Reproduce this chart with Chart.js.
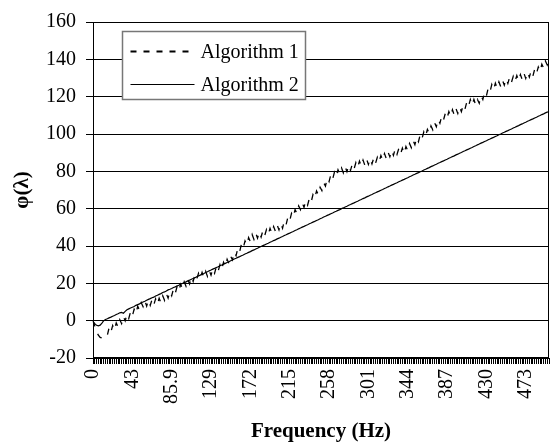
<!DOCTYPE html>
<html>
<head>
<meta charset="utf-8">
<script src="https://cdn.jsdelivr.net/npm/chart.js@4.4.0/dist/chart.umd.min.js"></script>
<style>
  html, body { margin: 0; padding: 0; background: #fff; }
  #wrap { width: 551px; height: 447px; }
</style>
</head>
<body>
<div id="wrap"><canvas id="phaseChart" width="551" height="447"></canvas></div>
<script>
// --- Data (256 frequency bins, a label every 22 bins) ---
const binCount = 256;
const labelEvery = 22;
const tickLabels = ['0', '43', '85.9', '129', '172', '215', '258', '301', '344', '387', '430', '473'];
const seriesNames = ['Algorithm 1', 'Algorithm 2'];

// jagged estimate (noisy bin-to-bin)
const algorithm1 = [
    0, -3, -6, -7.8, -9, -9.3, -8.5, -7.5, -7.9, -3.8,
    -6.2, -2.6, -5.0, -1.2, -3.3, 0.5, -1.6, 2.2, -0.1, 3.5,
    1.2, 4.8, 2.5, 6.1, 3.8, 7.7, 5.6, 9.6, 7.5, 10.7,
    7.8, 11.0, 8.2, 11.3, 8.5, 11.7, 8.8, 12.0, 9.6, 13.3,
    10.9, 14.5, 12.1, 15.7, 13.4, 17.0, 14.6, 18.2, 15.9, 19.5,
    17.2, 20.8, 18.5, 22.1, 19.7, 23.4, 21.0, 24.6, 22.2, 25.4,
    22.7, 25.9, 23.2, 26.4, 23.7, 26.9, 24.4, 27.9, 25.4, 29.0,
    26.5, 30.0, 27.5, 31.3, 29.1, 32.9, 30.7, 34.5, 32.6, 36.7,
    34.8, 38.8, 36.9, 41.0, 38.9, 42.7, 40.6, 44.5, 42.3, 46.2,
    43.5, 46.9, 44.2, 47.5, 44.8, 48.2, 45.5, 48.8, 46.2, 49.5,
    46.9, 50.4, 47.8, 51.2, 48.6, 52.1, 49.5, 53.5, 51.5, 55.5,
    53.5, 57.5, 55.5, 59.5, 57.5, 61.5, 59.5, 63.1, 60.7, 64.3,
    61.9, 65.5, 63.5, 67.5, 65.5, 69.5, 67.5, 71.5, 69.7, 73.9,
    72.1, 76.3, 74.5, 78.2, 75.8, 79.5, 77.2, 80.8, 78.5, 81.8,
    79.2, 82.5, 79.8, 83.2, 80.5, 83.9, 81.3, 84.7, 82.1, 85.5,
    82.8, 86.0, 83.3, 86.5, 83.7, 86.8, 84.0, 87.2, 84.3, 87.5,
    85.0, 88.5, 86.0, 89.5, 86.9, 90.3, 87.8, 91.2, 88.6, 92.0,
    89.1, 92.2, 89.3, 92.4, 89.5, 93.3, 91.1, 94.9, 92.7, 96.5,
    94.3, 98.1, 95.9, 99.7, 97.5, 101.2, 98.8, 102.5, 100.4, 104.3,
    102.2, 106.1, 103.9, 107.8, 105.7, 109.6, 107.5, 111.0, 108.5, 112.0,
    109.5, 113.0, 110.2, 113.5, 111.0, 114.5, 112.0, 115.5, 113.3, 117.0,
    114.8, 118.5, 115.5, 118.5, 115.5, 118.5, 116.5, 120.5, 118.5, 122.5,
    120.5, 124.5, 122.5, 126.5, 123.8, 127.2, 124.5, 127.9, 125.4, 128.8,
    126.2, 129.6, 127.1, 130.5, 127.7, 130.9, 128.1, 131.3, 128.5, 131.8,
    129.2, 132.5, 129.8, 133.1, 130.5, 133.8, 131.1, 134.7, 132.3, 135.9,
    133.5, 137.4, 135.3, 139.1, 137.0, 140.5
];

const algorithm2 = [
    -0.5, -1.6, -2.5, -2.8, -2.4, -1.3, 0.0, 0.6, 1.0, 1.5,
    1.9, 2.4, 2.8, 3.3, 3.7, 4.2, 4.4, 4.0, 5.0, 5.8,
    6.3, 6.8, 7.2, 7.6, 8.2, 8.6, 9.0, 9.6, 10.0, 10.4,
    10.9, 11.4, 11.8, 12.3, 12.6, 13.2, 13.6, 14.1, 14.5, 15.1,
    15.4, 15.9, 16.5, 16.8, 17.2, 17.8, 18.1, 18.6, 19.0, 19.6,
    19.9, 20.4, 20.8, 21.3, 21.7, 22.2, 22.6, 23.0, 23.5, 24.0,
    24.4, 24.9, 25.3, 25.8, 26.2, 26.7, 27.1, 27.6, 28.0, 28.5,
    28.9, 29.4, 29.8, 30.3, 30.7, 31.2, 31.6, 32.1, 32.5, 33.0,
    33.4, 33.9, 34.3, 34.8, 35.2, 35.7, 36.1, 36.6, 37.0, 37.5,
    37.9, 38.4, 38.8, 39.3, 39.7, 40.2, 40.6, 41.1, 41.5, 42.0,
    42.4, 42.9, 43.3, 43.8, 44.2, 44.7, 45.1, 45.6, 46.0, 46.5,
    46.9, 47.4, 47.8, 48.3, 48.7, 49.2, 49.6, 50.1, 50.5, 51.0,
    51.4, 51.9, 52.3, 52.8, 53.2, 53.7, 54.1, 54.6, 55.0, 55.5,
    55.9, 56.4, 56.8, 57.3, 57.7, 58.2, 58.6, 59.1, 59.5, 60.0,
    60.4, 60.9, 61.3, 61.8, 62.2, 62.7, 63.1, 63.6, 64.0, 64.5,
    64.9, 65.4, 65.8, 66.3, 66.7, 67.2, 67.6, 68.1, 68.5, 69.0,
    69.4, 69.9, 70.3, 70.8, 71.2, 71.7, 72.1, 72.6, 73.0, 73.5,
    73.9, 74.4, 74.8, 75.3, 75.7, 76.2, 76.6, 77.1, 77.5, 78.0,
    78.4, 78.9, 79.3, 79.8, 80.2, 80.7, 81.1, 81.6, 82.0, 82.5,
    82.9, 83.4, 83.8, 84.3, 84.7, 85.2, 85.6, 86.1, 86.5, 87.0,
    87.4, 87.9, 88.3, 88.8, 89.2, 89.7, 90.1, 90.6, 91.0, 91.5,
    91.9, 92.4, 92.8, 93.3, 93.7, 94.2, 94.6, 95.1, 95.5, 96.0,
    96.4, 96.9, 97.3, 97.8, 98.2, 98.7, 99.1, 99.6, 100.0, 100.5,
    100.9, 101.4, 101.8, 102.3, 102.7, 103.2, 103.6, 104.1, 104.5, 105.0,
    105.4, 105.9, 106.3, 106.8, 107.2, 107.7, 108.1, 108.6, 109.0, 109.5,
    109.9, 110.4, 110.8, 111.3, 111.7, 112.2
];

// category slots (one per bin)
const bins = Array.from({ length: binCount }, (_, i) => i);

const serif = "'Liberation Serif', 'Times New Roman', serif";

// --- Legend box + plot frame, drawn over the grid ---
const legendBox = {
    id: 'legendBox',
    afterDraw(chart) {
        const { ctx, chartArea: a } = chart;
        ctx.save();

        // plot area frame
        ctx.strokeStyle = '#000';
        ctx.lineWidth = 1;
        ctx.strokeRect(a.left + 0.5, a.top + 0.5, a.right - a.left - 1, a.bottom - a.top - 1);

        // legend
        const x0 = a.left + 29.5, y0 = a.top + 9.5, w = 183, h = 68;
        ctx.fillStyle = '#fff';
        ctx.fillRect(x0, y0, w, h);
        ctx.strokeStyle = '#777';
        ctx.lineWidth = 1.5;
        ctx.strokeRect(x0, y0, w, h);

        chart.data.datasets.forEach((ds, k) => {
            const ly = y0 + 20 + k * 33;
            ctx.beginPath();
            ctx.strokeStyle = ds.borderColor;
            ctx.lineWidth = k === 0 ? 1.8 : ds.borderWidth;
            ctx.setLineDash(k === 0 ? [6, 7] : []);
            ctx.moveTo(x0 + 8, ly);
            ctx.lineTo(x0 + 72, ly);
            ctx.stroke();
            ctx.setLineDash([]);
            ctx.fillStyle = '#000';
            ctx.font = `20px ${serif}`;
            ctx.textAlign = 'left';
            ctx.textBaseline = 'middle';
            ctx.fillText(ds.label, x0 + 78, ly + 1);
        });
        ctx.restore();
    }
};

document.addEventListener('DOMContentLoaded', () => {
    const ctx = document.getElementById('phaseChart').getContext('2d');
    new Chart(ctx, {
        type: 'line',
        data: {
            labels: bins,
            datasets: [
                {
                    label: seriesNames[0],
                    data: algorithm1,
                    borderColor: '#000',
                    borderWidth: 1.3,
                    borderDash: [6, 8],
                    pointRadius: 0,
                    tension: 0,
                    fill: false
                },
                {
                    label: seriesNames[1],
                    data: algorithm2,
                    borderColor: '#000',
                    borderWidth: 1.2,
                    pointRadius: 0,
                    tension: 0,
                    fill: false
                }
            ]
        },
        options: {
            responsive: false,
            animation: false,
            devicePixelRatio: 1,
            layout: { padding: { left: 0, top: 16, right: 2, bottom: 0 } },
            plugins: {
                legend: { display: false },
                tooltip: { enabled: false }
            },
            scales: {
                x: {
                    type: 'category',
                    offset: false,
                    afterFit: (s) => {
                        s.height = 89;
                        s.paddingLeft = 0;
                        s.paddingRight = 0;
                    },
                    border: { display: true, color: '#000', width: 1 },
                    grid: {
                        display: true,
                        drawOnChartArea: false,
                        drawTicks: true,
                        tickLength: 6,
                        color: '#000',
                        lineWidth: 1
                    },
                    ticks: {
                        autoSkip: false,
                        minRotation: 90,
                        maxRotation: 90,
                        padding: 5,
                        color: '#000',
                        font: { family: serif, size: 20 },
                        callback: (val, index) => index % labelEvery === 0 ? tickLabels[index / labelEvery] : ''
                    },
                    title: {
                        display: true,
                        text: 'Frequency (Hz)',
                        color: '#000',
                        font: { family: serif, size: 21, weight: 'bold', lineHeight: 1.2 },
                        padding: { top: 0, bottom: 3 }
                    }
                },
                y: {
                    min: -20,
                    max: 160,
                    afterFit: (s) => { s.width = 93; },
                    border: { display: true, color: '#000', width: 1 },
                    grid: {
                        color: '#000',
                        lineWidth: 1,
                        drawTicks: true,
                        tickLength: 7
                    },
                    ticks: {
                        stepSize: 20,
                        padding: 10,
                        color: '#000',
                        font: { family: serif, size: 20 }
                    },
                    title: {
                        display: true,
                        text: 'φ(λ)',
                        color: '#000',
                        font: { family: serif, size: 21, weight: 'bold', lineHeight: 1.2 },
                        padding: { top: 10, bottom: 0 }
                    }
                }
            }
        },
        plugins: [legendBox]
    });
});
</script>
</body>
</html>
